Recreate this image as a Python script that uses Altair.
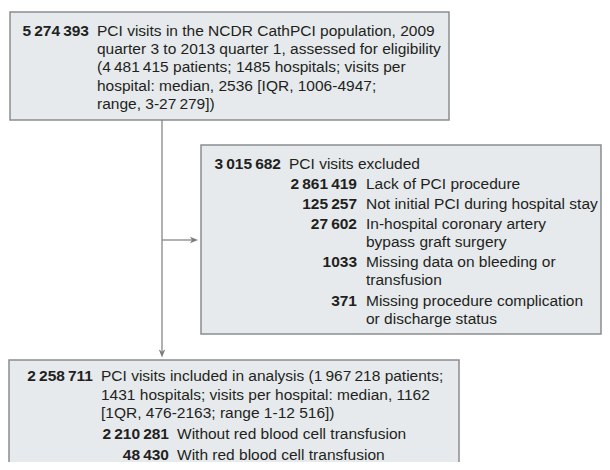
import altair as alt
import pandas as pd

THIN = "\u2009"

# ---------------- chart content ----------------
top_number = f"5{THIN}274{THIN}393"
top_lines = [
    "PCI visits in the NCDR CathPCI population, 2009",
    "quarter 3 to 2013 quarter 1, assessed for eligibility",
    f"(4{THIN}481{THIN}415 patients; 1485 hospitals; visits per",
    "hospital: median, 2536 [IQR, 1006-4947;",
    f"range, 3-27{THIN}279])",
]
excl_number = f"3{THIN}015{THIN}682"
excl_title = "PCI visits excluded"
excl_numbers = [f"2{THIN}861{THIN}419", f"125{THIN}257", f"27{THIN}602", "1033", "371"]
excl_reasons = [
    ["Lack of PCI procedure"],
    ["Not initial PCI during hospital stay"],
    ["In-hospital coronary artery", "bypass graft surgery"],
    ["Missing data on bleeding or", "transfusion"],
    ["Missing procedure complication", "or discharge status"],
]
incl_number = f"2{THIN}258{THIN}711"
incl_lines = [
    f"PCI visits included in analysis (1{THIN}967{THIN}218 patients;",
    "1431 hospitals; visits per hospital: median, 1162",
    "[1QR, 476-2163; range 1-12 516])",
]
group_numbers = [f"2{THIN}210{THIN}281", f"48{THIN}430"]
group_labels = ["Without red blood cell transfusion", "With red blood cell transfusion"]

# ---------------- layout (page pixel coordinates) ----------------
W, H = 594, 454
XD = [8, 8 + W]
YD = [8, 8 + H]
FONT = "Liberation Sans"
FS = 15.5
WRAP = 18.2
ITEM = 20.1

boxes = pd.DataFrame([
    dict(x=10, x2=449, y=12, y2=120),
    dict(x=201, x2=601, y=145, y2=334),
    dict(x=9, x2=459, y=360, y2=480),
])

nums, labels = [], []
# box 1
nums.append(dict(x=89, y=36, t=top_number))
for i, s in enumerate(top_lines):
    labels.append(dict(x=97, y=36 + i * WRAP, t=s))
# box 2
yb = 169
nums.append(dict(x=281, y=yb, t=excl_number))
labels.append(dict(x=289, y=yb, t=excl_title))
for n, lines in zip(excl_numbers, excl_reasons):
    yb += ITEM
    nums.append(dict(x=357, y=yb, t=n))
    for j, s in enumerate(lines):
        if j:
            yb += WRAP - 0.2
        labels.append(dict(x=366, y=yb, t=s))
# box 3
yb = 381
nums.append(dict(x=93, y=yb, t=incl_number))
for i, s in enumerate(incl_lines):
    labels.append(dict(x=101, y=yb + i * 18.6, t=s))
yb = yb + 2 * 18.6
for n, s in zip(group_numbers, group_labels):
    yb += 21.1
    nums.append(dict(x=169, y=yb, t=n))
    labels.append(dict(x=177, y=yb, t=s))

nums = pd.DataFrame(nums)
labels = pd.DataFrame(labels)

rules = pd.DataFrame([
    dict(x=162, x2=162, y=120, y2=351),
    dict(x=162, x2=192, y=240, y2=240),
])
arrow_r = pd.DataFrame([dict(x=198, y=240)])
arrow_d = pd.DataFrame([dict(x=162, y=357.5)])

xs = alt.Scale(domain=XD, range=[0, W])
ys = alt.Scale(domain=YD, reverse=True)
X = lambda f="x": alt.X(f"{f}:Q", scale=xs, axis=None)
Y = lambda f="y": alt.Y(f"{f}:Q", scale=ys, axis=None)

rect = alt.Chart(boxes).mark_rect(
    fill="#e6eaed", stroke="#8b8d8f", strokeWidth=1.5, clip=True
).encode(x=X(), x2="x2:Q", y=Y(), y2="y2:Q")

lines = alt.Chart(rules).mark_rule(color="#7d7d7d", strokeWidth=1.2).encode(
    x=X(), x2="x2:Q", y=Y(), y2="y2:Q"
)

head_r = alt.Chart(arrow_r).mark_point(
    shape="M0,0L-2,-0.8L-1.5,0L-2,0.8Z", filled=True, size=64,
    color="#7d7d7d", opacity=1, strokeWidth=0
).encode(x=X(), y=Y())
head_d = alt.Chart(arrow_d).mark_point(
    shape="M0,0L-0.8,-2L0,-1.5L0.8,-2Z", filled=True, size=64,
    color="#7d7d7d", opacity=1, strokeWidth=0
).encode(x=X(), y=Y())

num_text = alt.Chart(nums).mark_text(
    align="right", baseline="alphabetic", font=FONT, fontSize=FS,
    fontWeight="bold", color="#231f20"
).encode(x=X(), y=Y(), text="t:N")

lab_text = alt.Chart(labels).mark_text(
    align="left", baseline="alphabetic", font=FONT, fontSize=FS,
    color="#231f20"
).encode(x=X(), y=Y(), text="t:N")

chart = alt.layer(rect, lines, head_r, head_d, num_text, lab_text).properties(
    width=W, height=H, padding=0, autosize="none"
).configure_view(stroke=None)

chart.save("out.html", embed_options={"renderer": "svg", "actions": False})
